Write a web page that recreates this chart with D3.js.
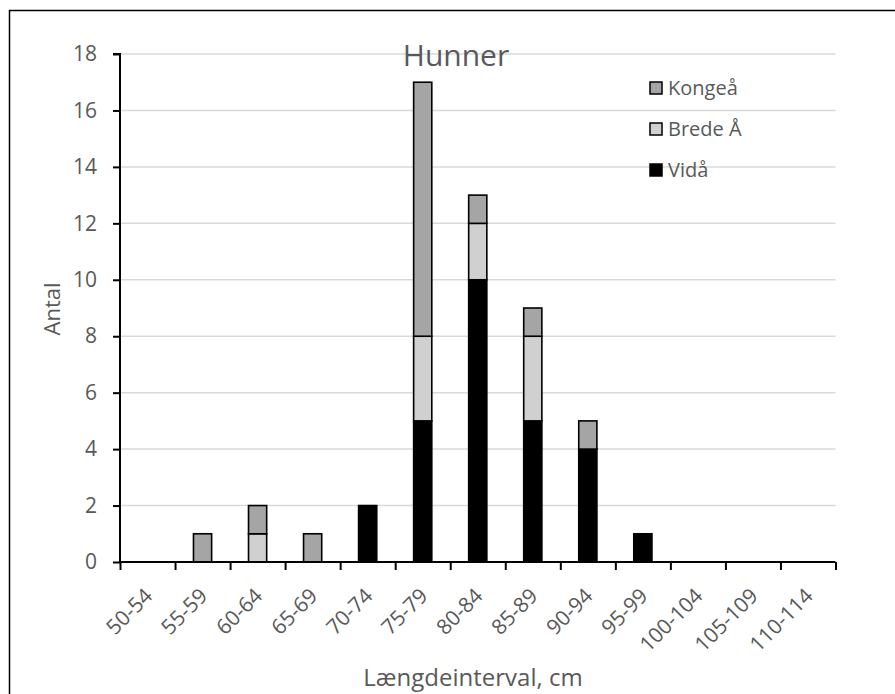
<!DOCTYPE html>
<html><head><meta charset="utf-8">
<script src="https://cdn.jsdelivr.net/npm/d3@7"></script>
<style>
html,body{margin:0;padding:0;background:#fff;}
svg{display:block;font-family:"Open Sans",sans-serif;}
</style></head>
<body>
<svg id="c" width="895" height="694"></svg>
<script>
const categories = ["50-54","55-59","60-64","65-69","70-74","75-79","80-84","85-89","90-94","95-99","100-104","105-109","110-114"];
const vidaa  = [0,0,0,0,2,5,10,5,4,1,0,0,0];
const brede  = [0,0,1,0,0,3,2,3,0,0,0,0,0];
const kongea = [0,1,1,1,0,9,1,1,1,0,0,0,0];
const seriesNames = ["Vidå","Brede Å","Kongeå"];
const seriesColors = ["#000000","#d0d0d0","#a5a5a5"];
const yTicks = [0,2,4,6,8,10,12,14,16,18];
const title = "Hunner";
const xTitle = "Længdeinterval, cm";
const yTitle = "Antal";

(function(){
const svg = d3.select("#c");
const textColor = "#595959";
const pL = 120, pR = 835.5, pT = 54, pB = 562;

// chart border (top & left visible)
svg.append("rect").attr("x",9.5).attr("y",10.5).attr("width",1000).attr("height",1000)
  .attr("fill","none").attr("stroke","#000").attr("stroke-width",1.5);

const x = d3.scaleBand().domain(categories).range([pL,pR]).padding(0);
const xb = d3.scaleLinear().domain([0,categories.length]).range([pL,pR]);
const y = d3.scaleLinear().domain([0,18]).range([pB,pT]);

// gridlines
svg.append("g").selectAll("line").data(yTicks.filter(d=>d>0)).join("line")
  .attr("x1",pL).attr("x2",pR).attr("y1",d=>y(d)).attr("y2",d=>y(d))
  .attr("stroke","#d9d9d9").attr("stroke-width",1.5);

// title
svg.append("text").attr("x",456).attr("y",66).attr("text-anchor","middle")
  .attr("font-size",30).attr("fill",textColor).text(title);

// stacked bars
const rows = categories.map((c,i)=>({cat:c, "Vidå":vidaa[i], "Brede Å":brede[i], "Kongeå":kongea[i]}));
const stack = d3.stack().keys(seriesNames)(rows);
const bw = x.bandwidth()*0.33;
svg.append("g").selectAll("g").data(stack).join("g")
  .attr("fill",(d,i)=>seriesColors[i])
  .selectAll("rect").data(d=>d.filter(p=>p[1]-p[0]>0)).join("rect")
  .attr("x",d=>x(d.data.cat)+x.bandwidth()/2-bw/2)
  .attr("width",bw)
  .attr("y",d=>y(d[1]))
  .attr("height",d=>y(d[0])-y(d[1]))
  .attr("stroke","#000").attr("stroke-width",1.6);

// y axis
const ya = svg.append("g").attr("transform",`translate(${pL},0)`)
  .call(d3.axisLeft(y).tickValues(yTicks).tickSize(7).tickPadding(16));
ya.select(".domain").attr("stroke","#000").attr("stroke-width",2).attr("d",`M-7,${pT}H0V${pB}`);
ya.selectAll(".tick line").attr("stroke","#000").attr("stroke-width",2);
ya.selectAll(".tick text").attr("font-size",21).attr("fill",textColor).attr("font-family","Open Sans");

// x axis boundaries ticks
const xa = svg.append("g").attr("transform",`translate(0,${pB})`)
  .call(d3.axisBottom(xb).tickValues(d3.range(categories.length+1)).tickSize(8).tickFormat(""));
xa.select(".domain").attr("stroke","#000").attr("stroke-width",2).attr("d",`M${pL},0H${pR}`);
xa.selectAll(".tick line").attr("stroke","#000").attr("stroke-width",2);

// x labels
svg.append("g").selectAll("text").data(categories).join("text")
  .attr("transform",d=>`translate(${x(d)+x.bandwidth()/2+1},${pB+30}) rotate(-45)`)
  .attr("text-anchor","end").attr("dy","0.35em")
  .attr("font-size",21).attr("fill",textColor).text(d=>d);

// axis titles
svg.append("text").attr("x",473).attr("y",686).attr("text-anchor","middle")
  .attr("font-size",24).attr("fill",textColor).text(xTitle);
svg.append("text").attr("transform","translate(60,309) rotate(-90)").attr("text-anchor","middle")
  .attr("font-size",22).attr("fill",textColor).text(yTitle);

// legend
const legendOrder = [2,1,0];
const lg = svg.append("g");
legendOrder.forEach((si,k)=>{
  const cy = 88 + k*41;
  lg.append("rect").attr("x",650).attr("y",cy-6).attr("width",12).attr("height",12)
    .attr("fill",seriesColors[si]).attr("stroke","#000").attr("stroke-width",1.5);
  lg.append("text").attr("x",668).attr("y",cy).attr("dy","0.35em")
    .attr("font-size",20).attr("fill",textColor).text(seriesNames[si]);
});
})();
</script>
</body></html>
